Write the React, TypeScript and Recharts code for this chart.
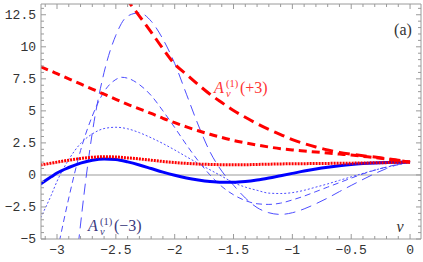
import { LineChart, Line, XAxis, YAxis, ReferenceLine } from 'recharts';

// shared abscissa (nu) for the curves that span the whole range
const nuGrid = [-3.14, -3.05, -3.0, -2.9, -2.8, -2.7, -2.6, -2.5, -2.4, -2.3, -2.2, -2.1, -2.0, -1.9, -1.8, -1.7, -1.6, -1.5, -1.4, -1.3, -1.2, -1.1, -1.0, -0.9, -0.8, -0.7, -0.6, -0.5, -0.4, -0.3, -0.2, -0.1, 0];

const redMedium = [8.45, 8.1, 7.9, 7.5, 7.1, 6.7, 6.3, 5.9, 5.5, 5.15, 4.8, 4.42, 4.08, 3.75, 3.45, 3.17, 2.92, 2.69, 2.5, 2.33, 2.18, 2.05, 1.95, 1.87, 1.79, 1.71, 1.63, 1.55, 1.45, 1.35, 1.24, 1.12, 1];
const redDotted = [0.78, 0.92, 1.0, 1.15, 1.28, 1.38, 1.42, 1.4, 1.33, 1.25, 1.15, 1.05, 0.97, 0.9, 0.85, 0.82, 0.8, 0.8, 0.8, 0.82, 0.84, 0.86, 0.87, 0.88, 0.89, 0.9, 0.91, 0.92, 0.93, 0.95, 0.96, 0.98, 1];
const blueSolid = [-0.7, -0.15, 0.15, 0.58, 0.92, 1.15, 1.25, 1.2, 1.02, 0.78, 0.5, 0.22, -0.03, -0.24, -0.4, -0.52, -0.58, -0.58, -0.52, -0.4, -0.24, -0.06, 0.12, 0.3, 0.46, 0.6, 0.72, 0.82, 0.89, 0.94, 0.97, 0.99, 1];
const blueDotted = [-3.35, -1.6, -0.5, 1.2, 2.45, 3.2, 3.62, 3.72, 3.6, 3.3, 2.9, 2.45, 1.95, 1.42, 0.9, 0.4, -0.1, -0.6, -0.95, -1.2, -1.42, -1.45, -1.38, -1.2, -0.95, -0.7, -0.42, -0.15, 0.12, 0.38, 0.6, 0.8, 1];

const nuRedLong = [-2.42, -2.3, -2.2, -2.1, -2.0, -1.9, -1.8, -1.7, -1.6, -1.5, -1.4, -1.3, -1.2, -1.1, -1.0, -0.9, -0.8, -0.7, -0.6, -0.5, -0.4, -0.3, -0.2, -0.1, 0];
const redLong = [13.85, 12.4, 11.15, 9.85, 8.65, 7.85, 7.05, 6.3, 5.65, 5.03, 4.5, 4.0, 3.55, 3.15, 2.75, 2.45, 2.18, 1.95, 1.76, 1.62, 1.5, 1.4, 1.28, 1.15, 1.0];

const nuBlueMedium = [-2.98, -2.9, -2.8, -2.7, -2.6, -2.5, -2.45, -2.4, -2.3, -2.2, -2.1, -2.0, -1.9, -1.8, -1.7, -1.6, -1.5, -1.4, -1.3, -1.2, -1.1, -1.0, -0.9, -0.8, -0.7, -0.6, -0.5, -0.4, -0.3, -0.2, -0.1, 0];
const blueMedium = [-5.2, -1.8, 1.9, 4.6, 6.5, 7.45, 7.62, 7.55, 7.05, 6.2, 5.0, 3.7, 2.35, 1.1, 0.0, -0.9, -1.55, -2.0, -2.25, -2.3, -2.2, -1.95, -1.65, -1.3, -0.95, -0.6, -0.25, 0.08, 0.37, 0.62, 0.83, 1];

const nuBlueLong = [-2.82, -2.75, -2.7, -2.6, -2.5, -2.4, -2.3, -2.2, -2.1, -2.0, -1.9, -1.8, -1.7, -1.6, -1.5, -1.4, -1.3, -1.2, -1.1, -1.0, -0.9, -0.8, -0.7, -0.6, -0.5, -0.4, -0.3, -0.2, -0.1, 0];
const blueLong = [-5.5, 0.0, 3.3, 8.0, 10.9, 12.4, 12.65, 12.0, 10.6, 8.7, 6.3, 3.9, 1.8, 0.3, -0.8, -1.8, -2.55, -2.95, -3.08, -2.95, -2.65, -2.25, -1.8, -1.3, -0.82, -0.35, 0.1, 0.5, 0.82, 1];

const xTicks = [-3.1, -3, -2.9, -2.8, -2.7, -2.6, -2.5, -2.4, -2.3, -2.2, -2.1, -2, -1.9, -1.8, -1.7, -1.6, -1.5, -1.4, -1.3, -1.2, -1.1, -1, -0.9, -0.8, -0.7, -0.6, -0.5, -0.4, -0.3, -0.2, -0.1, 0];
const yTicks = [-5, -4.5, -4, -3.5, -3, -2.5, -2, -1.5, -1, -0.5, 0, 0.5, 1, 1.5, 2, 2.5, 3, 3.5, 4, 4.5, 5, 5.5, 6, 6.5, 7, 7.5, 8, 8.5, 9, 9.5, 10, 10.5, 11, 11.5, 12, 12.5, 13];
const xMajor = [-3, -2.5, -2, -1.5, -1, -0.5, 0];
const yMajor = [-5, -2.5, 0, 2.5, 5, 7.5, 10, 12.5];

const X_DOMAIN = [-3.136, 0.093];
const Y_DOMAIN = [-5, 13.34];
const FRAME = '#9a9a9a';
const LABEL = '#333';
const MONO = "'Liberation Mono', 'DejaVu Sans Mono', monospace";
const SERIF = "'Liberation Serif', 'DejaVu Serif', serif";
const monoStyle = { fontFamily: MONO, fontSize: 13 };
const serifStyle = { fontFamily: SERIF };

const zip = (xs: number[], ys: number[]) => xs.map((x, i) => ({ x, y: ys[i] }));
const isIn = (list: number[], v: number) => list.some(m => Math.abs(m - v) < 1e-6);
const fmt = (v: number) => (v < 0 ? '\u2212' : '') + String(Math.abs(v));

const BottomTick = (props: any) => {
  const { x, y, payload } = props;
  const major = isIn(xMajor, payload.value);
  return (
    <g>
      <line x1={x} x2={x} y1={y} y2={y - (major ? 5 : 3)} stroke={FRAME} />
      {major && (
        <text x={x} y={y + 15} textAnchor="middle" style={monoStyle} fill={LABEL}>
          {fmt(payload.value)}
        </text>
      )}
    </g>
  );
};

const TopTick = (props: any) => {
  const { x, y, payload } = props;
  const major = isIn(xMajor, payload.value);
  return <line x1={x} x2={x} y1={y} y2={y + (major ? 5 : 3)} stroke={FRAME} />;
};

const LeftTick = (props: any) => {
  const { x, y, payload } = props;
  const major = isIn(yMajor, payload.value);
  return (
    <g>
      <line x1={x} x2={x + (major ? 5 : 3)} y1={y} y2={y} stroke={FRAME} />
      {major && (
        <text x={x - 5} y={y + 4} textAnchor="end" style={monoStyle} fill={LABEL}>
          {fmt(payload.value)}
        </text>
      )}
    </g>
  );
};

const RightTick = (props: any) => {
  const { x, y, payload } = props;
  const major = isIn(yMajor, payload.value);
  return <line x1={x} x2={x - (major ? 5 : 3)} y1={y} y2={y} stroke={FRAME} />;
};

// A_nu^(1)(k) label, laid out piece by piece
const CurveLabel = ({ x, y, k, color }: { x: number; y: number; k: string; color: string }) => (
  <g fill={color} style={serifStyle}>
    <text x={x} y={y} fontSize={16} fontStyle="italic">A</text>
    <text x={x + 12} y={y - 6} fontSize={10.5}>(1)</text>
    <text x={x + 12} y={y + 4} fontSize={10.5} fontStyle="italic">ν</text>
    <text x={x + 26} y={y} fontSize={16}>({k})</text>
  </g>
);

export default function App() {
  return (
    <div style={{ position: 'absolute', left: 0, top: 0, width: 423, height: 262, background: '#fff' }}>
      <LineChart width={423} height={262} margin={{ top: 0, right: 0, bottom: 0, left: 0 }}>
        <XAxis dataKey="x" type="number" domain={X_DOMAIN} allowDataOverflow ticks={xTicks} interval={0}
          tick={<BottomTick />} tickLine={false} tickSize={0} tickMargin={0} height={23} axisLine={{ stroke: FRAME }} />
        <XAxis xAxisId="top" orientation="top" dataKey="x" type="number" domain={X_DOMAIN} allowDataOverflow ticks={xTicks} interval={0}
          tick={<TopTick />} tickLine={false} tickSize={0} tickMargin={0} height={4} axisLine={{ stroke: FRAME }} />
        <YAxis type="number" domain={Y_DOMAIN} allowDataOverflow ticks={yTicks} interval={0}
          tick={<LeftTick />} tickLine={false} tickSize={0} tickMargin={0} width={41} axisLine={{ stroke: FRAME }} />
        <YAxis yAxisId="right" orientation="right" type="number" domain={Y_DOMAIN} allowDataOverflow ticks={yTicks} interval={0}
          tick={<RightTick />} tickLine={false} tickSize={0} tickMargin={0} width={2} axisLine={{ stroke: FRAME }} />
        <ReferenceLine y={0} stroke="#bdbdbd" strokeWidth={1.5} />
        <Line data={zip(nuBlueLong, blueLong)} dataKey="y" type="monotone" stroke="#4d4dff" strokeWidth={1} strokeDasharray="11 6" dot={false} isAnimationActive={false} />
        <Line data={zip(nuBlueMedium, blueMedium)} dataKey="y" type="monotone" stroke="#4d4dff" strokeWidth={1} strokeDasharray="6 4" dot={false} isAnimationActive={false} />
        <Line data={zip(nuGrid, blueDotted)} dataKey="y" type="monotone" stroke="#4d4dff" strokeWidth={1} strokeDasharray="2 2" dot={false} isAnimationActive={false} />
        <Line data={zip(nuGrid, blueSolid)} dataKey="y" type="monotone" stroke="#0000ff" strokeWidth={3} dot={false} isAnimationActive={false} />
        <Line data={zip(nuGrid, redDotted)} dataKey="y" type="monotone" stroke="#ff0000" strokeWidth={3} strokeDasharray="2 1" dot={false} isAnimationActive={false} />
        <Line data={zip(nuGrid, redMedium)} dataKey="y" type="monotone" stroke="#ff0000" strokeWidth={3} strokeDasharray="8 5" dot={false} isAnimationActive={false} />
        <Line data={zip(nuRedLong, redLong)} dataKey="y" type="monotone" stroke="#ff0000" strokeWidth={3} strokeDasharray="11 6" dot={false} isAnimationActive={false} />
      </LineChart>
      <svg width={423} height={262} style={{ position: 'absolute', left: 0, top: 0, pointerEvents: 'none' }}>
        <text x={403} y={35} textAnchor="middle" style={serifStyle} fontSize={16} fill={LABEL}>(a)</text>
        <CurveLabel x={214} y={93} k="+3" color="#ff3333" />
        <CurveLabel x={88} y={231} k={'\u22123'} color="#3a3a80" />
        <text x={400} y={232} textAnchor="middle" style={serifStyle} fontStyle="italic" fontSize={16} fill={LABEL}>ν</text>
      </svg>
    </div>
  );
}
